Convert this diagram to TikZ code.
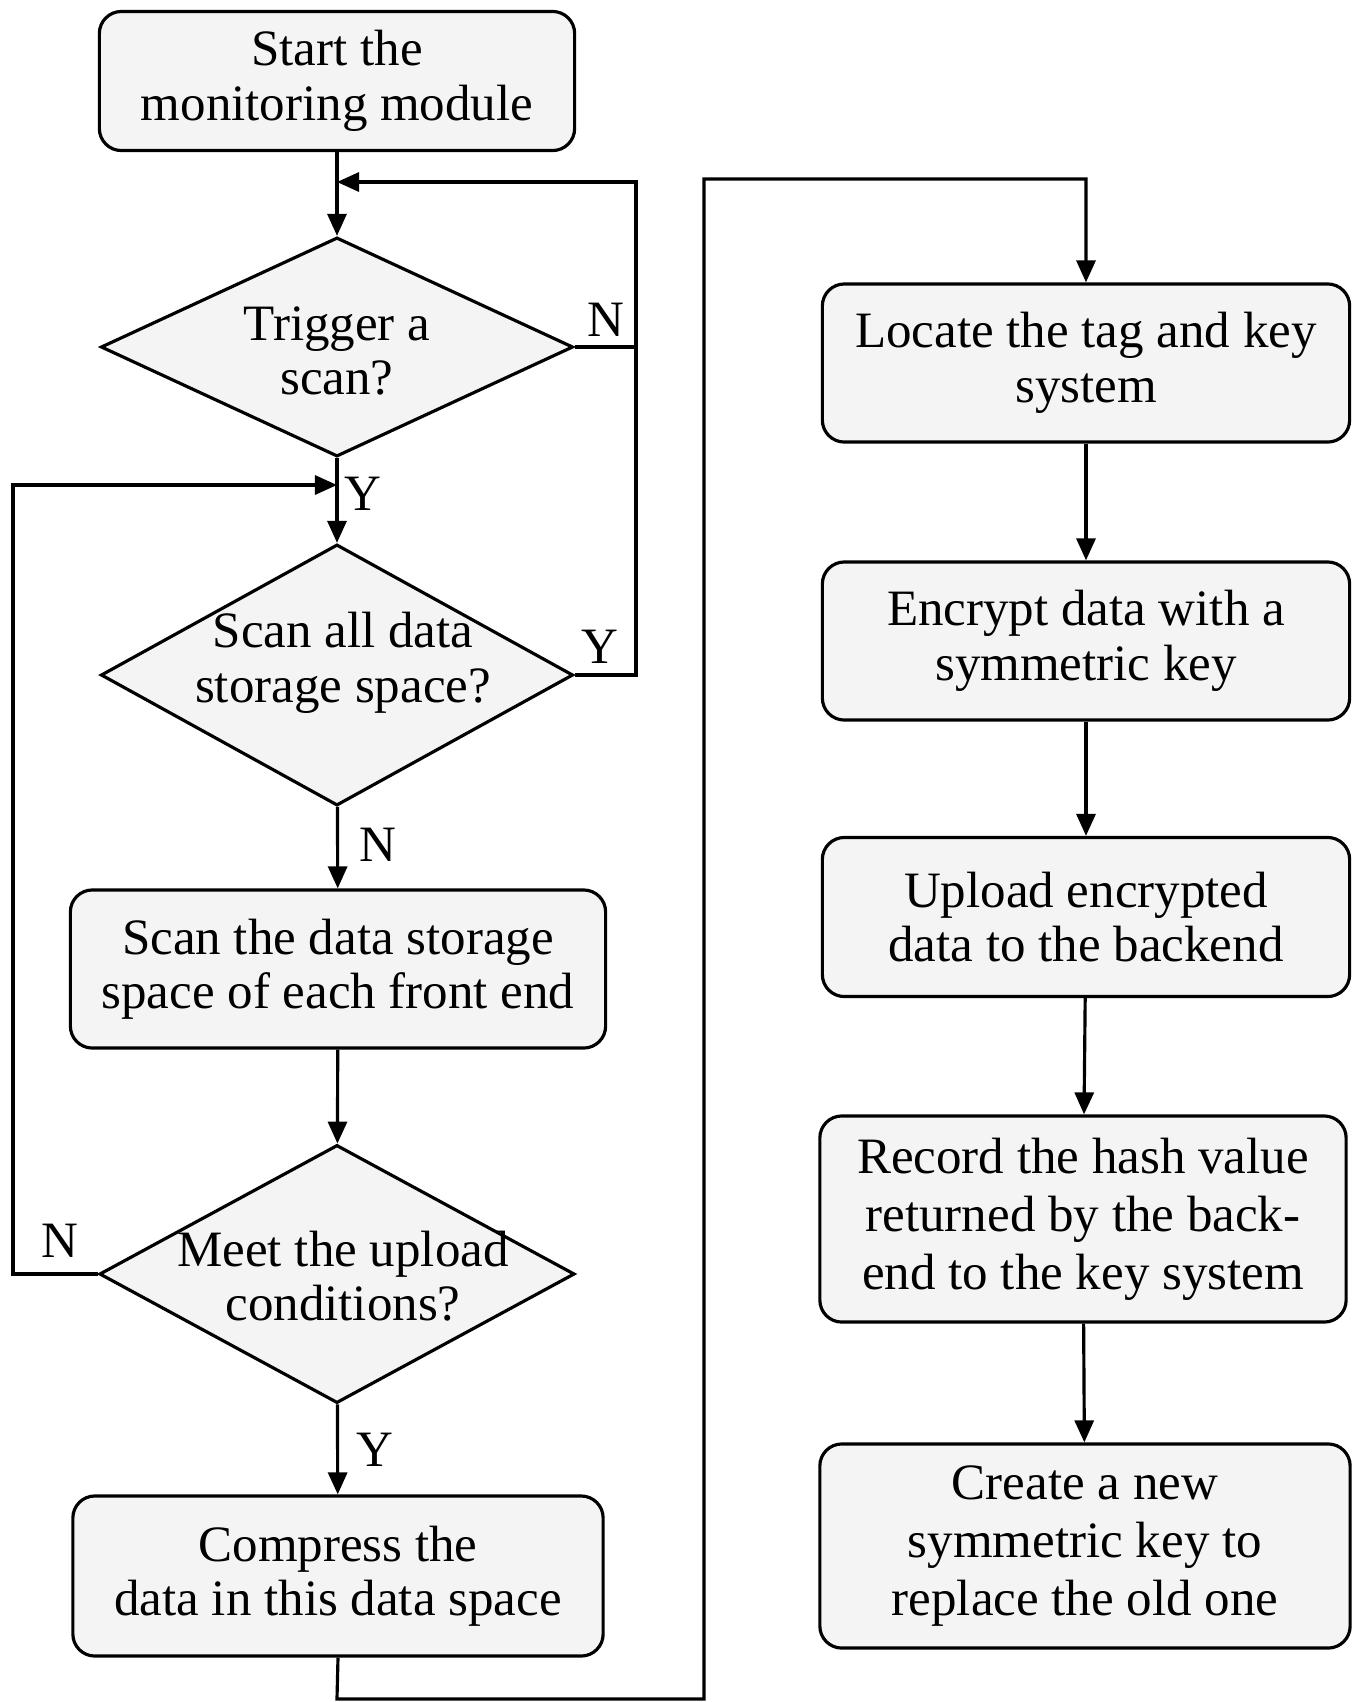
\documentclass[tikz,border=0pt]{standalone}
\usepackage{fontspec}
\setmainfont{Liberation Serif}
\usetikzlibrary{shapes.geometric,arrows.meta}
\definecolor{boxfill}{RGB}{244,244,244}

\begin{document}
\begin{tikzpicture}[x=0.01cm, y=-0.01cm,
  every node/.style={font=\fontsize{14.5}{15.5}\selectfont},
  procbox/.style={draw, line width=0.9pt, fill=boxfill, rounded corners=0.22cm, align=center, inner sep=0pt},
  decision/.style={draw, line width=0.9pt, fill=boxfill, diamond, inner sep=0pt},
  dtext/.style={align=center, inner sep=0pt},
  flow/.style={line width=0.9pt, -{Triangle[length=0.22cm,width=0.19cm]}},
  plain/.style={line width=0.9pt},
  yn/.style={inner sep=0pt},
  ]
  \useasboundingbox (0,0) rectangle (1354,1702);
  % left column
  \node[procbox, minimum width=4.75cm, minimum height=1.39cm] (start) at (337,81) {Start the\\monitoring module};
  \node[decision, minimum width=4.72cm, minimum height=2.19cm,
    label={[dtext, yshift=-0.04cm]center:Trigger a\\scan?}] (trig) at (337,347) {};
  \node[decision, minimum width=4.72cm, minimum height=2.61cm,
    label={[dtext, xshift=0.06cm, yshift=0.12cm]center:Scan all data\\storage space?}] (scanall) at (337,675) {};
  \node[procbox, minimum width=5.35cm, minimum height=1.58cm] (scanbox) at (338,969) {Scan the data storage\\space of each front end};
  \node[decision, minimum width=4.75cm, minimum height=2.58cm,
    label={[dtext, xshift=0.06cm, yshift=-0.02cm]center:Meet the upload\\conditions?}] (meet) at (337,1274) {};
  \node[procbox, minimum width=5.30cm, minimum height=1.60cm] (compress) at (338,1576) {Compress the\\data in this data space};
  % right column
  \node[procbox, minimum width=5.27cm, minimum height=1.58cm] (locate) at (1086,363) {Locate the tag and key\\system};
  \node[procbox, minimum width=5.27cm, minimum height=1.58cm] (encrypt) at (1086,641) {Encrypt data with a\\symmetric key};
  \node[procbox, minimum width=5.27cm, minimum height=1.59cm] (upload) at (1086,917) {Upload encrypted\\data to the backend};
  \node[procbox, minimum width=5.26cm, minimum height=2.06cm,
    font=\fontsize{14.5}{16.5}\selectfont] (record) at (1083,1219) {Record the hash value\\returned by the back-\\end to the key system};
  \node[procbox, minimum width=5.30cm, minimum height=2.04cm,
    font=\fontsize{14.5}{16.5}\selectfont] (create) at (1085,1546) {Create a new\\symmetric key to\\replace the old one};
  % loop corners
  \coordinate (jtop) at (337,182);
  \coordinate (jmid) at (337,485);
  \coordinate (rloop) at (636,182);
  \coordinate (lloop) at (13,485);
  \coordinate (b1) at (337,1699);
  \coordinate (b2) at (704,1699);
  \coordinate (b3) at (704,179);
  % connectors
  \draw[flow] (start) -- (trig);
  \draw[plain] (trig.east) -- (trig.east -| rloop);
  \draw[flow] (scanall.east) -| (rloop) -- (jtop);
  \draw[flow] (trig) -- (scanall);
  \draw[flow] (meet.west) -| (lloop) -- (jmid);
  \draw[flow] (scanall) -- (scanbox);
  \draw[flow] (scanbox) -- (meet);
  \draw[flow] (meet) -- (compress);
  \draw[flow] (compress.south) -- (b1) -- (b2) -- (b3) -| (locate.north);
  \draw[flow] (locate) -- (encrypt);
  \draw[flow] (encrypt) -- (upload);
  \draw[flow] (upload) -- (record);
  \draw[flow] (record) -- (create);
  % Y/N labels
  \node[yn] (ntrig) at (606,320) {N};
  \node[yn] (ytrig) at (363,494) {Y};
  \node[yn] (yscan) at (600,647) {Y};
  \node[yn] (nscan) at (378,845) {N};
  \node[yn] (nmeet) at (60,1241) {N};
  \node[yn] (ymeet) at (375,1450) {Y};
\end{tikzpicture}
\end{document}
